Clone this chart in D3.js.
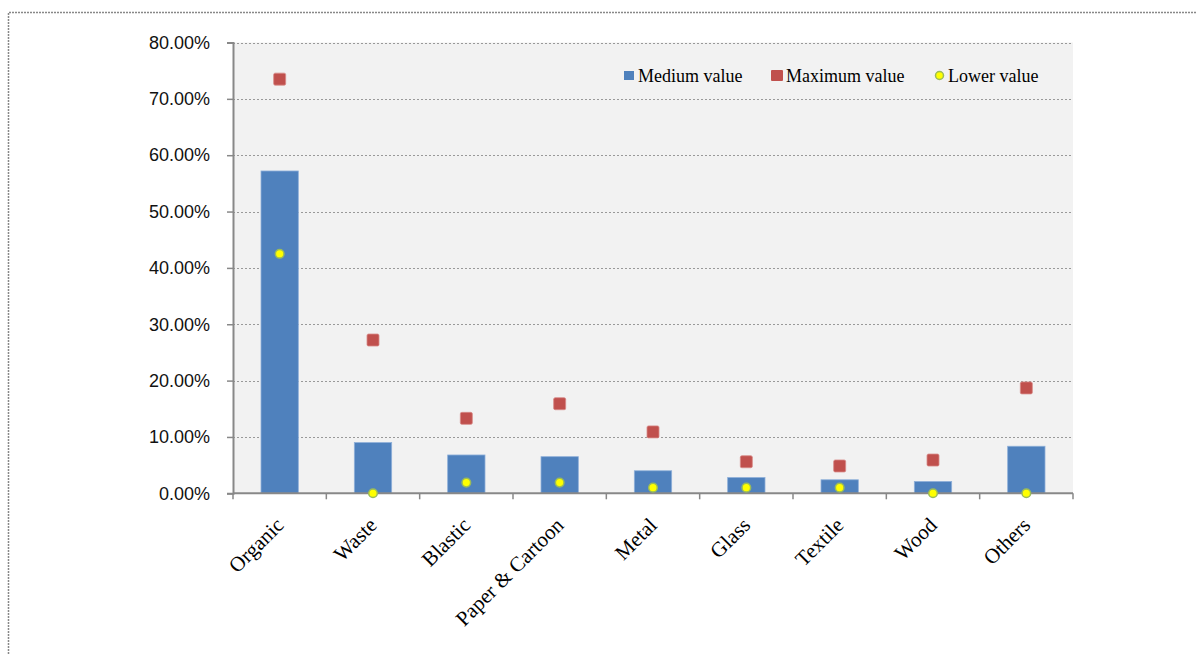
<!DOCTYPE html>
<html><head><meta charset="utf-8">
<script src="https://cdn.jsdelivr.net/npm/d3@7"></script>
<style>body{margin:0;background:#fff;}svg{display:block;}</style>
</head><body>
<svg id="chart" width="1197" height="654"></svg>
<script>
const categories = ["Organic","Waste","Blastic","Paper & Cartoon","Metal","Glass","Textile","Wood","Others"];
const mediumValues = [57.2, 9.0, 6.8, 6.5, 4.0, 2.8, 2.4, 2.1, 8.35];
const maximumValues = [73.5, 27.2, 13.3, 15.9, 10.9, 5.6, 4.85, 5.9, 18.7];
const lowerValues = [42.5, 0.0, 1.9, 1.9, 1.0, 1.0, 1.0, 0.0, 0.0];
const yTicks = [0,10,20,30,40,50,60,70,80];
const seriesNames = ["Medium value","Maximum value","Lower value"];

(function(){
const svg = d3.select("#chart");
const pL = 233, pR = 1073, pT = 42.5, pB = 493.3;

// outer dotted border
svg.append("path").attr("d","M8.5,660 V12.5 H1205")
  .attr("fill","none").attr("stroke","#888").attr("stroke-width",1.5).attr("stroke-dasharray","2,1");

const x = d3.scaleBand().domain(categories).range([pL,pR]).paddingInner(0.6).paddingOuter(0.3);
const y = d3.scaleLinear().domain([0,80]).range([pB,pT]);

svg.append("rect").attr("x",pL).attr("y",pT).attr("width",pR-pL).attr("height",pB-pT).attr("fill","#f2f2f2");

// gridlines
svg.append("g").selectAll("line").data(yTicks.filter(d=>d>0)).join("line")
  .attr("x1",pL).attr("x2",pR).attr("y1",d=>Math.round(y(d))+0.5).attr("y2",d=>Math.round(y(d))+0.5)
  .attr("stroke","#999").attr("stroke-width",1.2).attr("stroke-dasharray","2,2");

// y axis
const yAxis = d3.axisLeft(y).tickValues(yTicks).tickSize(6).tickFormat(d=>d.toFixed(2)+"%");
const gy = svg.append("g").attr("transform",`translate(${pL},0)`).call(yAxis);
gy.select(".domain").attr("stroke","#888").attr("stroke-width",2);
gy.selectAll(".tick line").attr("stroke","#888").attr("stroke-width",1.5);
gy.selectAll(".tick text").attr("x",-23).attr("font-family","Liberation Sans, Arial, sans-serif").attr("font-size","18px").attr("fill","#111");

// bars
svg.append("g").selectAll("rect").data(categories).join("rect")
  .attr("x",d=>x(d)).attr("width",x.bandwidth())
  .attr("y",(d,i)=>y(mediumValues[i])).attr("height",(d,i)=>pB-y(mediumValues[i]))
  .attr("fill","#4f81bd").attr("stroke","#8fb0d9").attr("stroke-width",0.8);

// x axis
const xPos = d3.scalePoint().domain(d3.range(categories.length+1)).range([pL,pR]);
svg.append("line").attr("x1",pL).attr("x2",pR).attr("y1",pB).attr("y2",pB).attr("stroke","#888").attr("stroke-width",2);
svg.append("g").selectAll("line").data(d3.range(categories.length+1)).join("line")
  .attr("x1",d=>xPos(d)).attr("x2",d=>xPos(d)).attr("y1",pB).attr("y2",pB+6)
  .attr("stroke","#888").attr("stroke-width",1.5);

svg.append("g").selectAll("text").data(categories).join("text")
  .attr("transform",d=>`translate(${x(d)+x.bandwidth()/2},${pB+28}) rotate(-45)`)
  .attr("text-anchor","end").attr("dy","0.35em")
  .attr("font-family","Liberation Serif, Times New Roman, serif").attr("font-size","21px").attr("fill","#000")
  .text(d=>d);

// max squares
const cx = d=>x(d)+x.bandwidth()/2;
svg.append("g").selectAll("rect").data(categories).join("rect")
  .attr("x",d=>cx(d)-6).attr("width",12).attr("height",12)
  .attr("y",(d,i)=>y(maximumValues[i])-6).attr("rx",1.5)
  .attr("fill","#c0504d").attr("stroke","#d88a88").attr("stroke-width",0.8);

// lower circles
svg.append("g").selectAll("circle").data(categories).join("circle")
  .attr("cx",cx).attr("cy",(d,i)=>y(lowerValues[i])).attr("r",4.3)
  .attr("fill","#ffff00").attr("stroke","#9bbb59").attr("stroke-width",1.5);

// legend
const lg = svg.append("g").attr("font-family","Liberation Serif, Times New Roman, serif").attr("font-size","18px");
lg.append("rect").attr("x",624).attr("y",71).attr("width",10).attr("height",9).attr("fill","#4f81bd");
lg.append("text").attr("x",638).attr("y",82).text(seriesNames[0]);
lg.append("rect").attr("x",771).attr("y",70).attr("width",12).attr("height",11).attr("rx",1).attr("fill","#c0504d");
lg.append("text").attr("x",786).attr("y",82).text(seriesNames[1]);
lg.append("circle").attr("cx",939.5).attr("cy",75.5).attr("r",4).attr("fill","#ffff00").attr("stroke","#9bbb59").attr("stroke-width",1.5);
lg.append("text").attr("x",948).attr("y",82).text(seriesNames[2]);
})();
</script>
</body></html>
